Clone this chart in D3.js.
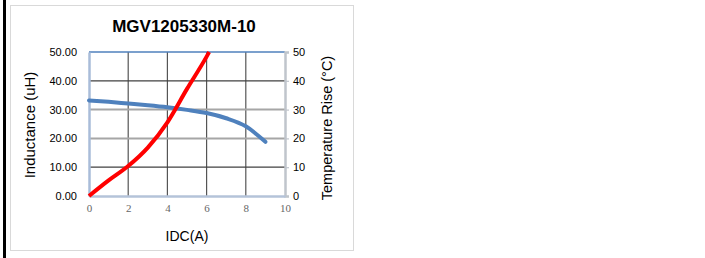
<!DOCTYPE html>
<html>
<head>
<meta charset="utf-8">
<script src="https://cdn.jsdelivr.net/npm/d3@7"></script>
<style>
  body { margin: 0; background: #fff; }
  svg { display: block; font-family: "Liberation Sans", Arial, sans-serif; }
</style>
</head>
<body>
<svg id="chart"></svg>
<script>
// values
var title = "MGV1205330M-10";
var xTicks = [0, 2, 4, 6, 8, 10];
var yTicks = [0, 10, 20, 30, 40, 50];
var inductI = [0, 1, 2, 3, 4, 5, 6, 7, 8, 9];
var inductL = [33.2, 32.7, 32.1, 31.5, 30.8, 29.9, 28.8, 27.0, 24.2, 18.8];
var tempI = [0, 1, 2, 3, 4, 5, 6, 6.13];
var tempRise = [0, 5.4, 10.4, 16.8, 25.6, 37.2, 48.4, 50];

var svgWidth = 705, svgHeight = 258;
var margin = { top: 52, left: 89, right: 420, bottom: 62 };
var width = svgWidth - margin.left - margin.right;
var height = svgHeight - margin.top - margin.bottom;

var svg = d3.select("#chart")
    .attr("width", svgWidth)
    .attr("height", svgHeight);

// page edge + chart frame
svg.append("rect").attr("x", 3).attr("y", 0).attr("width", 3).attr("height", svgHeight).attr("fill", "#000");
svg.append("rect").attr("x", 10.5).attr("y", 5.5).attr("width", 343).attr("height", 245)
    .attr("fill", "#fff").attr("stroke", "#d9d9d9");

var x = d3.scaleLinear().domain([0, 10]).range([0, width]);
var yL = d3.scaleLinear().domain([0, 50]).range([height, 0]);
var yR = d3.scaleLinear().domain([0, 50]).range([height, 0]);

var g = svg.append("g")
    .attr("transform", "translate(" + margin.left + "," + margin.top + ")");

// vertical grid
g.selectAll(".vgrid").data(xTicks.filter(function(d) { return d > 0 && d < 10; }))
  .enter().append("line")
    .attr("x1", function(d) { return x(d); }).attr("x2", function(d) { return x(d); })
    .attr("y1", 0).attr("y2", height)
    .attr("stroke", "#555").attr("stroke-width", 1.2);

// horizontal grid (20 and 30 look lighter and heavier)
g.selectAll(".hgrid").data(yTicks.filter(function(d) { return d > 0 && d < 50; }))
  .enter().append("line")
    .attr("x1", 0).attr("x2", width)
    .attr("y1", function(d) { return yL(d); }).attr("y2", function(d) { return yL(d); })
    .attr("stroke", function(d) { return (d == 20 || d == 30) ? "#a6a6a6" : "#404040"; })
    .attr("stroke-width", function(d) { return (d == 20 || d == 30) ? 2 : 1.2; });

// top line
g.append("line").attr("x1", 0).attr("x2", width).attr("y1", 0).attr("y2", 0)
    .attr("stroke", "#4f81bd").attr("stroke-width", 1.5);

// left axis
var ax = g.append("g")
    .call(d3.axisLeft(yL).tickValues(yTicks).tickSize(0).tickPadding(12).tickFormat(d3.format(".2f")));
ax.select(".domain").attr("stroke", "#a9bcd9").attr("stroke-width", 2.5);
ax.selectAll("text").attr("font-size", 11).attr("fill", "#000").attr("font-family", "Liberation Sans, Arial, sans-serif");

// right axis
var ar = g.append("g")
    .attr("transform", "translate(" + width + ",0)")
    .call(d3.axisRight(yR).tickValues(yTicks).tickSize(4).tickPadding(4));
ar.select(".domain").attr("stroke", "#c0c5cc").attr("stroke-width", 2.5);
ar.selectAll(".tick line").attr("stroke", "#c0c5cc").attr("stroke-width", 1.2);
ar.selectAll("text").attr("font-size", 11).attr("fill", "#000").attr("font-family", "Liberation Sans, Arial, sans-serif");

// bottom axis
var ab = g.append("g")
    .attr("transform", "translate(0," + height + ")")
    .call(d3.axisBottom(x).tickValues(xTicks).tickSize(0).tickPadding(8));
ab.select(".domain").attr("stroke", "#b4c3d9").attr("stroke-width", 2.5);
ab.selectAll("text").attr("font-size", 11).attr("fill", "#666").attr("font-family", "Liberation Serif, Times New Roman, serif");

// series
var lineL = d3.line()
    .x(function(d, i) { return x(inductI[i]); })
    .y(function(d) { return yL(d); })
    .curve(d3.curveMonotoneX);
var lineT = d3.line()
    .x(function(d, i) { return x(tempI[i]); })
    .y(function(d) { return yR(d); })
    .curve(d3.curveMonotoneX);

g.append("path").datum(inductL)
    .attr("d", lineL).attr("fill", "none")
    .attr("stroke", "#4f81bd").attr("stroke-width", 4).attr("stroke-linecap", "round");
g.append("path").datum(tempRise)
    .attr("d", lineT).attr("fill", "none")
    .attr("stroke", "#ff0000").attr("stroke-width", 4);

// texts
svg.append("text").attr("x", 184).attr("y", 32).attr("text-anchor", "middle")
    .attr("font-size", 17).attr("font-weight", "bold").text(title);
svg.append("text").attr("transform", "translate(35,125) rotate(-90)").attr("text-anchor", "middle")
    .attr("font-size", 15).text("Inductance (uH)");
svg.append("text").attr("transform", "translate(332,128) rotate(-90)").attr("text-anchor", "middle")
    .attr("font-size", 14.5).text("Temperature Rise (°C)");
svg.append("text").attr("x", 187).attr("y", 241).attr("text-anchor", "middle")
    .attr("font-size", 14).text("IDC(A)");
</script>
</body>
</html>
